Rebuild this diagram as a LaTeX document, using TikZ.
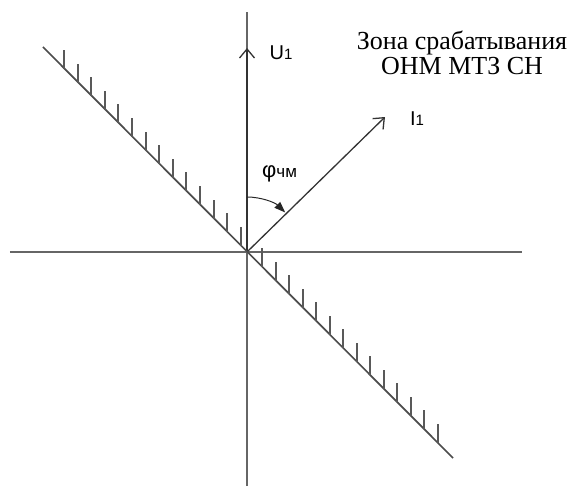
\documentclass[tikz,border=0pt]{standalone}
\usepackage{fontspec}
\setmainfont{Liberation Serif}
\newfontfamily\arialf{Liberation Sans}
\usetikzlibrary{arrows.meta,positioning,calc}

\begin{document}
\begin{tikzpicture}[x=1pt,y=1pt,
  axis/.style={line width=1.6pt,black!60},
  vec/.style={line width=1.3pt,black!80,-{Straight Barb[length=9pt,width=15pt,line width=1.3pt]}},
  zone/.style={line width=1.7pt,black!70},
  hatch/.style={line width=2pt,black!65},
  lbl/.style={font=\arialf\fontsize{20}{20}\selectfont,inner sep=0pt}]
\useasboundingbox (-247,-236) rectangle (325,252);
% axes
\coordinate (O) at (0,0);
\coordinate (xl) at (-237,0);
\coordinate (xr) at (275,0);
\coordinate (yb) at (0,-234);
\coordinate (yt) at (0,240);
\draw[axis] (xl)--(xr);
\draw[axis] (yb)--(yt);
% vectors
\coordinate (uTip) at (0,204);
\coordinate (iTip) at (138,135);
\draw[vec] (O)--(uTip);
\draw[vec] (O)--(iTip);
\node[lbl] (u1) at (34,199) {U{\fontsize{15}{15}\selectfont 1}};
\node[lbl] (i1) at (170,133) {I{\fontsize{15}{15}\selectfont 1}};
% angle
\draw[line width=1pt,black!85,-{Triangle[length=11pt,width=8pt]}] (0,55) arc[start angle=90,end angle=46,radius=55];
\node[inner sep=0pt,anchor=base west] (phi) at (15,75) {\arialf\fontsize{22}{22}\selectfont φ{\fontsize{17}{17}\selectfont чм}};
% border of the zone
\coordinate (zA) at (-204,205);
\coordinate (zB) at (206,-206);
\draw[zone] (zA)--(zB);
\foreach \k in {0,...,13}{
  \pgfmathsetmacro{\ua}{round(-183+13.6*\k)}
  \pgfmathsetmacro{\ub}{round(15+13.54*\k)}
  \draw[hatch] (\ua,-\ua)--++(0,19);
  \draw[hatch] (\ub,-\ub)--++(0,19);
}
\node[align=center,font=\fontsize{26}{25}\selectfont,inner sep=0pt] (zn) at (215,199)
  {Зона срабатывания\\ОНМ МТЗ СН};
\end{tikzpicture}
\end{document}
